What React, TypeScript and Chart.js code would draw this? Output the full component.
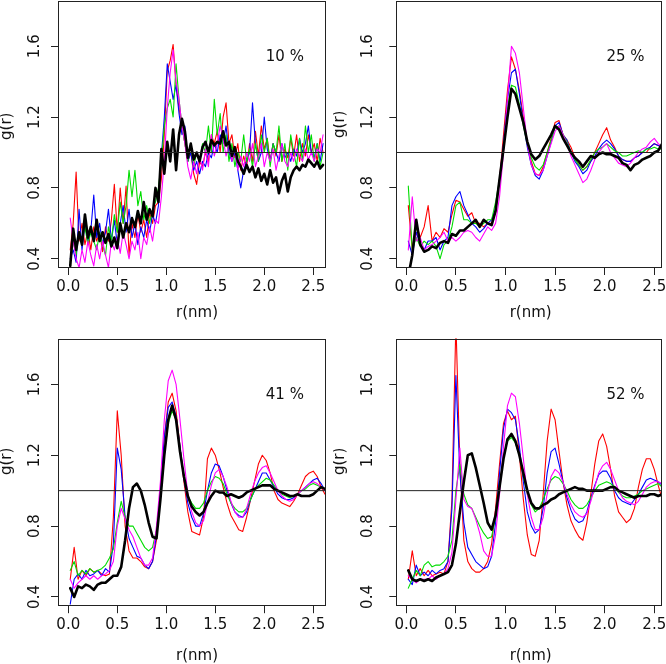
import React, { useEffect, useRef } from "react";
import { Chart, registerables } from "chart.js";

Chart.register(...registerables);

// ---------- r grids (nm) ----------
const R_FINE = [
  0.02, 0.05, 0.08, 0.11, 0.14, 0.17, 0.2, 0.23, 0.26, 0.29,
  0.32, 0.35, 0.38, 0.41, 0.44, 0.47, 0.5, 0.53, 0.56, 0.59,
  0.62, 0.65, 0.68, 0.71, 0.74, 0.77, 0.8, 0.83, 0.86, 0.89,
  0.92, 0.95, 0.98, 1.01, 1.04, 1.07, 1.1, 1.13, 1.16, 1.19,
  1.22, 1.25, 1.28, 1.31, 1.34, 1.37, 1.4, 1.43, 1.46, 1.49,
  1.52, 1.55, 1.58, 1.61, 1.64, 1.67, 1.7, 1.73, 1.76, 1.79,
  1.82, 1.85, 1.88, 1.91, 1.94, 1.97, 2.0, 2.03, 2.06, 2.09,
  2.12, 2.15, 2.18, 2.21, 2.24, 2.27, 2.3, 2.33, 2.36, 2.39,
  2.42, 2.45, 2.48, 2.51, 2.54, 2.57, 2.6,
];
const R_STD = [
  0.02, 0.06, 0.1, 0.14, 0.18, 0.22, 0.26, 0.3, 0.34, 0.38,
  0.42, 0.46, 0.5, 0.54, 0.58, 0.62, 0.66, 0.7, 0.74, 0.78,
  0.82, 0.86, 0.9, 0.94, 0.98, 1.02, 1.06, 1.1, 1.14, 1.18,
  1.22, 1.26, 1.3, 1.34, 1.38, 1.42, 1.46, 1.5, 1.54, 1.58,
  1.62, 1.66, 1.7, 1.74, 1.78, 1.82, 1.86, 1.9, 1.94, 1.98,
  2.02, 2.06, 2.1, 2.14, 2.18, 2.22, 2.26, 2.3, 2.34, 2.38,
  2.42, 2.46, 2.5, 2.54, 2.58, 2.62,
];

// ---------- 10 % ----------
const P10_BLACK = [
  0.36, 0.57, 0.45, 0.55, 0.48, 0.65, 0.52, 0.58, 0.5, 0.62,
  0.5, 0.55, 0.49, 0.54, 0.47, 0.52, 0.46, 0.6, 0.52, 0.6,
  0.55, 0.63, 0.58, 0.67, 0.6, 0.72, 0.62, 0.68, 0.64, 0.8,
  0.72, 1.02, 0.88, 1.06, 0.95, 1.13, 0.9, 1.1, 1.19, 1.12,
  0.97, 1.05, 0.96, 1.0, 0.95, 1.03, 1.06, 1.0, 1.07, 1.04,
  1.06, 1.05, 1.12, 1.04, 1.06, 0.98, 1.03, 0.95, 0.92, 0.88,
  0.93, 0.89, 0.92, 0.86, 0.91, 0.84, 0.88, 0.82, 0.9, 0.83,
  0.86, 0.77, 0.84, 0.88, 0.78, 0.86, 0.9, 0.92, 0.9, 0.93,
  0.92, 0.96, 0.94, 0.92, 0.95, 0.91, 0.93,
];
const P10_RED = [
  0.45, 0.6, 0.89, 0.5, 0.6, 0.48, 0.56, 0.45, 0.58, 0.5,
  0.55, 0.44, 0.58, 0.5, 0.62, 0.82, 0.55, 0.8, 0.6, 0.81,
  0.42, 0.6, 0.52, 0.65, 0.55, 0.62, 0.52, 0.66, 0.6, 0.7,
  0.72, 0.85, 1.1, 1.46, 1.52, 1.61, 1.38, 1.25, 1.15, 1.05,
  0.95, 1.0, 0.88, 0.82, 0.95, 0.92, 1.0, 0.95, 1.1, 1.05,
  1.12, 1.0, 1.2, 1.28, 1.05, 1.1, 0.97, 1.05, 0.9, 0.98,
  0.92, 1.05, 0.95, 1.12, 0.98, 1.15, 1.02, 1.08, 0.95, 1.05,
  0.98, 1.1, 0.95, 1.02, 0.97, 1.08, 0.98, 1.1, 0.95, 1.05,
  0.98, 1.1, 1.0, 1.05, 0.95, 1.08, 1.0,
];
const P10_BLUE = [
  0.4, 0.45, 0.38, 0.68, 0.45, 0.6, 0.5, 0.56, 0.76, 0.52,
  0.6, 0.48, 0.55, 0.68, 0.5, 0.62, 0.48, 0.6, 0.7, 0.55,
  0.68, 0.52, 0.6, 0.48, 0.58, 0.52, 0.62, 0.55, 0.65, 0.6,
  0.7, 0.98, 1.2, 1.5, 1.4, 1.3, 1.38, 1.22, 1.1, 1.15,
  0.95, 1.0, 0.9, 0.95, 0.88, 0.95, 0.92, 1.0, 0.97, 1.05,
  1.0, 1.1, 1.05, 1.15, 1.0, 0.95, 1.0, 0.9, 0.8, 0.9,
  0.95, 1.0, 1.28, 1.05, 0.95, 1.0, 1.2, 1.02, 0.95, 1.05,
  1.0, 0.95, 1.05, 0.97, 1.0, 0.95, 1.02, 0.98, 1.08, 1.0,
  1.05, 1.15, 1.0, 0.97, 1.05, 0.95, 1.05,
];
const P10_GREEN = [
  0.38, 0.5, 0.42, 0.55, 0.5, 0.58, 0.48, 0.55, 0.5, 0.45,
  0.55, 0.48, 0.42, 0.58, 0.5, 0.65, 0.55, 0.72, 0.6, 0.7,
  0.9, 0.75, 0.9, 0.7, 0.78, 0.62, 0.7, 0.6, 0.68, 0.72,
  0.8, 0.95, 1.15, 1.25, 1.3, 1.2, 1.5, 1.3, 1.15, 1.05,
  0.95, 1.05, 0.92, 1.0, 0.95, 1.05, 1.0, 1.15, 1.0, 1.3,
  1.1, 1.22, 1.0, 1.1, 0.95, 1.05, 0.92, 1.0, 0.95, 1.1,
  0.95, 1.02, 0.92, 1.05, 0.95, 1.1, 1.0, 1.08, 0.92, 1.05,
  1.0, 1.15, 0.95, 1.05, 0.9, 1.1, 1.0, 0.92, 1.08, 0.95,
  1.15, 1.0, 1.1, 0.95, 1.05, 0.92, 1.0,
];
const P10_MAGENTA = [
  0.63, 0.5, 0.4, 0.35, 0.45, 0.38, 0.5, 0.42, 0.36, 0.48,
  0.4, 0.5, 0.42, 0.35, 0.5, 0.45, 0.52, 0.43, 0.55, 0.48,
  0.4, 0.5, 0.45, 0.55, 0.4, 0.52, 0.48, 0.58, 0.5, 0.62,
  0.6, 0.75, 0.95, 1.25, 1.45, 1.58, 1.4, 1.3, 1.15, 1.05,
  0.92, 0.85, 0.95, 0.88, 0.98, 0.9, 1.02, 0.92, 1.1, 0.98,
  1.05, 1.15, 1.08, 0.98, 1.05, 0.95, 1.02, 0.9, 0.98, 0.92,
  1.0, 0.95, 1.05, 0.92, 0.98, 1.05, 0.92, 1.0, 0.95, 1.02,
  0.9, 0.98, 1.05, 0.95, 0.92, 1.0, 0.95, 1.02, 0.98, 0.95,
  1.02, 0.96, 1.0, 0.95, 1.02, 1.0, 1.1,
];

// ---------- 25 % ----------
const P25_BLACK = [
  0.3, 0.42, 0.62, 0.48, 0.44, 0.45, 0.47, 0.46, 0.49, 0.5,
  0.49, 0.54, 0.53, 0.56, 0.56, 0.58, 0.6, 0.62, 0.58, 0.62,
  0.6, 0.59, 0.67, 0.85, 1.02, 1.2, 1.36, 1.33, 1.25, 1.17,
  1.06, 0.99, 0.96, 0.98, 1.02, 1.06, 1.1, 1.15, 1.13, 1.08,
  1.04, 1.0, 0.97, 0.95, 0.92, 0.95, 0.98, 0.97, 0.99, 1.0,
  0.99, 0.99, 0.98, 0.97, 0.94, 0.93, 0.9, 0.93, 0.94, 0.96,
  0.97, 0.98, 1.0, 1.01, 1.05, 1.0,
];
const P25_RED = [
  0.7, 0.45, 0.6, 0.52, 0.58, 0.7, 0.5, 0.55, 0.52, 0.57,
  0.55, 0.65, 0.73, 0.72, 0.68, 0.64, 0.66, 0.6, 0.6, 0.58,
  0.6, 0.6, 0.66, 0.85, 1.1, 1.35, 1.54, 1.47, 1.35, 1.2,
  1.05, 0.95, 0.88, 0.87, 0.92, 1.0, 1.08, 1.17, 1.18, 1.1,
  1.07, 1.03, 0.97, 0.93, 0.9, 0.92, 0.95, 1.0, 1.05, 1.1,
  1.14, 1.07, 1.03, 0.98, 0.96, 0.95, 0.95, 0.97, 0.98, 1.0,
  1.0, 1.03, 1.05, 1.04, 1.03, 1.0,
];
const P25_BLUE = [
  0.5, 0.42, 0.55, 0.48, 0.45, 0.5, 0.5, 0.52, 0.45, 0.5,
  0.52, 0.7, 0.75, 0.78, 0.7, 0.65, 0.6, 0.58, 0.55, 0.57,
  0.6, 0.62, 0.68, 0.85, 1.05, 1.3, 1.45, 1.47, 1.33, 1.17,
  1.03, 0.93, 0.87, 0.85, 0.9, 0.98, 1.06, 1.15, 1.17, 1.1,
  1.07, 1.0, 0.95, 0.92, 0.88, 0.9, 0.95, 0.98, 1.02, 1.05,
  1.07, 1.05, 1.02, 0.98, 0.96, 0.95, 0.95, 0.97, 0.98, 1.0,
  1.02, 1.03, 1.05, 1.04, 1.03, 1.0,
];
const P25_GREEN = [
  0.81, 0.45, 0.52, 0.47, 0.5, 0.48, 0.5, 0.47, 0.4, 0.48,
  0.5, 0.58, 0.7, 0.72, 0.62, 0.62, 0.6, 0.6, 0.58, 0.6,
  0.62, 0.62, 0.72, 0.85, 1.02, 1.25, 1.38, 1.37, 1.27, 1.15,
  1.05, 0.97, 0.92, 0.9, 0.93, 1.0, 1.07, 1.14, 1.15, 1.1,
  1.06, 1.0, 0.96, 0.93, 0.9, 0.92, 0.96, 1.0, 1.02, 1.03,
  1.05, 1.03, 1.01, 1.0, 0.98, 0.98, 0.99, 1.0, 1.01, 1.0,
  1.02, 1.02, 1.03, 1.02, 1.02, 1.0,
];
const P25_MAGENTA = [
  0.45, 0.75, 0.5, 0.52, 0.45, 0.47, 0.48, 0.5, 0.52, 0.55,
  0.5, 0.52, 0.5, 0.52, 0.55, 0.56, 0.55, 0.52, 0.5, 0.54,
  0.58, 0.56, 0.6, 0.75, 1.0, 1.3, 1.6, 1.56, 1.45, 1.25,
  1.05, 0.93, 0.88, 0.87, 0.9, 0.98, 1.05, 1.12, 1.15, 1.1,
  1.05, 0.98, 0.93, 0.88, 0.83, 0.85, 0.9, 0.96, 1.0, 1.03,
  1.05, 1.0, 0.97, 0.94, 0.93, 0.92, 0.94, 0.97, 1.0, 1.02,
  1.03, 1.06, 1.08, 1.05, 1.03, 1.0,
];

// ---------- 41 % ----------
const P41_BLACK = [
  0.45, 0.4, 0.46, 0.45, 0.47, 0.46, 0.44, 0.47, 0.48, 0.48,
  0.5, 0.52, 0.52, 0.57, 0.72, 0.9, 1.02, 1.04, 1.0, 0.92,
  0.82, 0.74, 0.73, 0.95, 1.2, 1.4, 1.48, 1.4, 1.22, 1.08,
  0.97, 0.91, 0.88, 0.86, 0.88, 0.93, 0.97, 1.0, 0.99, 0.99,
  0.97, 0.98, 0.97, 0.96, 0.97, 0.99, 1.0, 1.01, 1.02, 1.03,
  1.03, 1.03, 1.01, 1.0, 0.99, 0.98, 0.97, 0.97, 0.98, 0.97,
  0.97, 0.97, 0.98, 1.0, 1.02, 1.01,
];
const P41_RED = [
  0.5, 0.68, 0.5, 0.55, 0.52, 0.56, 0.54, 0.55, 0.53, 0.52,
  0.53, 0.85, 1.45, 1.2, 0.8, 0.66, 0.62, 0.62, 0.6, 0.57,
  0.56, 0.6, 0.72, 1.0, 1.3, 1.5, 1.55, 1.45, 1.25, 1.05,
  0.88, 0.77, 0.76, 0.75, 0.85, 1.18, 1.24, 1.2, 1.12, 1.02,
  0.93, 0.86, 0.82, 0.78, 0.77, 0.85, 0.95, 1.05, 1.15, 1.2,
  1.17, 1.1, 1.0, 0.95, 0.93, 0.92, 0.91, 0.94, 0.98, 1.03,
  1.08, 1.1, 1.11, 1.08, 1.02, 0.98,
];
const P41_BLUE = [
  0.36, 0.5, 0.53, 0.5, 0.55, 0.52, 0.53, 0.55, 0.52, 0.56,
  0.54, 0.7, 1.24, 1.12, 0.85, 0.73, 0.68, 0.63, 0.62, 0.58,
  0.56, 0.6, 0.75, 1.0, 1.3, 1.47, 1.5, 1.42, 1.25, 1.07,
  0.93, 0.85, 0.8, 0.8, 0.87, 1.0, 1.1, 1.15, 1.14, 1.08,
  1.0, 0.93, 0.88, 0.86, 0.85, 0.88, 0.95, 1.0, 1.05, 1.1,
  1.1, 1.06, 1.02, 0.98, 0.96, 0.95, 0.95, 0.96, 0.98, 1.0,
  1.02, 1.04, 1.06, 1.07, 1.04, 1.0,
];
const P41_GREEN = [
  0.55, 0.6, 0.52, 0.55, 0.53, 0.56, 0.54, 0.55, 0.56, 0.58,
  0.62, 0.67, 0.82, 0.94, 0.85, 0.8, 0.8, 0.76, 0.72, 0.68,
  0.66, 0.68, 0.78, 0.95, 1.2, 1.38, 1.45, 1.4, 1.24, 1.08,
  0.97, 0.93, 0.9, 0.9, 0.93, 1.0, 1.05, 1.08, 1.07, 1.04,
  0.98, 0.93, 0.9, 0.88, 0.88, 0.9, 0.95, 1.0, 1.03, 1.05,
  1.07, 1.06, 1.03, 1.0, 0.98, 0.97, 0.96, 0.97, 0.98, 1.0,
  1.01, 1.03, 1.04, 1.03, 1.02, 1.0,
];
const P41_MAGENTA = [
  0.5, 0.45, 0.48, 0.5, 0.52, 0.5, 0.52, 0.5, 0.52, 0.53,
  0.55, 0.6, 0.8, 0.9, 0.84, 0.78, 0.74, 0.68, 0.62, 0.58,
  0.58, 0.62, 0.8, 1.05, 1.4, 1.62, 1.68, 1.6, 1.4, 1.18,
  0.98, 0.88, 0.82, 0.8, 0.83, 0.93, 1.03, 1.1, 1.12, 1.08,
  1.02, 0.94, 0.88, 0.85, 0.85, 0.9, 0.98, 1.05, 1.1, 1.13,
  1.14, 1.1, 1.05, 1.0, 0.97, 0.95, 0.94, 0.95, 0.98, 1.0,
  1.02, 1.04, 1.05, 1.04, 1.02, 1.0,
];

// ---------- 52 % ----------
const P52_BLACK = [
  0.55, 0.5, 0.49, 0.5, 0.49, 0.5, 0.49, 0.51, 0.52, 0.53,
  0.54, 0.58, 0.7, 0.88, 1.05, 1.2, 1.21, 1.13, 1.03, 0.93,
  0.82, 0.78, 0.86, 1.02, 1.18, 1.29, 1.32, 1.28, 1.2, 1.1,
  1.0, 0.93, 0.9, 0.9, 0.92, 0.93, 0.95, 0.96, 0.98, 0.99,
  1.0, 1.01, 1.02, 1.01, 1.01, 1.0, 1.0, 1.0, 1.0, 1.0,
  1.01, 1.02, 1.02, 1.0, 0.99, 0.98, 0.97, 0.96, 0.97, 0.97,
  0.97, 0.98, 0.98, 0.97, 0.98, 0.99,
];
const P52_RED = [
  0.5, 0.66, 0.52, 0.56, 0.52, 0.55, 0.52, 0.53, 0.54, 0.53,
  0.6, 0.95, 1.95, 1.15, 0.72, 0.6, 0.56, 0.54, 0.54, 0.56,
  0.6, 0.7, 0.9, 1.15, 1.38, 1.45, 1.4, 1.42, 1.2, 0.95,
  0.75, 0.64, 0.63, 0.72, 0.98, 1.28, 1.46, 1.4, 1.22, 1.05,
  0.92, 0.83, 0.78, 0.74, 0.72, 0.82, 0.98, 1.15, 1.28, 1.32,
  1.25, 1.12, 0.97, 0.88, 0.85, 0.82, 0.84, 0.9, 1.02, 1.12,
  1.18, 1.18, 1.12, 1.03, 0.95, 0.84,
];
const P52_BLUE = [
  0.5, 0.47, 0.58, 0.52, 0.54, 0.52, 0.55, 0.53, 0.55, 0.56,
  0.6, 0.9, 1.65, 1.1, 0.82, 0.68, 0.64, 0.6, 0.58, 0.56,
  0.57, 0.63, 0.82, 1.1, 1.35, 1.46, 1.44, 1.4, 1.25, 1.05,
  0.88, 0.8, 0.76, 0.78, 0.9, 1.1, 1.22, 1.24, 1.15, 1.05,
  0.96, 0.89, 0.84, 0.82, 0.83, 0.88, 0.96, 1.03, 1.09, 1.11,
  1.11, 1.07, 1.0, 0.96, 0.94, 0.93, 0.92, 0.95, 0.98, 1.02,
  1.06, 1.07, 1.06, 1.05, 1.03, 1.0,
];
const P52_GREEN = [
  0.45, 0.5, 0.55, 0.52, 0.58, 0.6, 0.57, 0.58, 0.58, 0.6,
  0.63, 0.72, 1.0, 1.15, 0.98, 0.92, 0.9, 0.85, 0.8, 0.76,
  0.73, 0.74, 0.85, 1.02, 1.2, 1.28, 1.3, 1.27, 1.2, 1.08,
  0.98, 0.92, 0.88, 0.9, 0.95, 1.01, 1.06, 1.08, 1.07, 1.04,
  1.0, 0.95, 0.92, 0.9, 0.9, 0.92, 0.96, 1.0, 1.03, 1.04,
  1.05, 1.04, 1.02, 0.99, 0.97, 0.96, 0.96, 0.97, 0.98, 1.0,
  1.01, 1.02, 1.03, 1.04, 1.02, 1.0,
];
const P52_MAGENTA = [
  0.52, 0.5, 0.48, 0.5, 0.5, 0.5, 0.52, 0.5, 0.52, 0.53,
  0.56, 0.65, 0.95, 1.24, 0.95, 0.91, 0.9, 0.84, 0.76, 0.66,
  0.63, 0.63, 0.75, 0.98, 1.25, 1.48, 1.55, 1.53, 1.38, 1.18,
  0.98, 0.85, 0.78, 0.78, 0.85, 0.98, 1.08, 1.12, 1.1, 1.05,
  0.98, 0.92, 0.88, 0.86, 0.85, 0.87, 0.94, 1.02, 1.1, 1.14,
  1.16, 1.12, 1.06, 1.0, 0.96, 0.94, 0.93, 0.92, 0.94, 0.98,
  1.02, 1.04, 1.05, 1.05, 1.04, 1.02,
];

// ---------- axes / labels ----------
const X_TICKS = [0, 0.5, 1.0, 1.5, 2.0, 2.5];
const Y_TICKS = [0.4, 0.8, 1.2, 1.6];
const Y_MIN = 0.348;
const Y_MAX = 1.858;
const REF_R = [-0.5, 3.0];
const REF_G = [1, 1];
const PANEL_TITLES = ["10 %", "25 %", "41 %", "52 %"];
const TITLE_R = 2.21;
const TITLE_G = 1.54;
const X_LABEL = "r(nm)";
const Y_LABEL = "g(r)";

const FONT = "'DejaVu Sans', 'Liberation Sans', Arial, sans-serif";
const INK = "#111111";
const AXIS = "#222222";

type Series = { black: number[]; red: number[]; blue: number[]; green: number[]; magenta: number[] };
type Geo = {
  left: number; top: number; w: number; h: number;
  areaL: number; areaT: number; areaR: number; areaB: number;
  xMin: number; xMax: number; yTickPad: number;
  xTitleDx: number; xTitleY: number; yTitleX: number; yTitleDy: number;
};

const PANELS: { geo: Geo; r: number[]; s: Series; title: string }[] = [
  {
    geo: { left: 0, top: 0, w: 333, h: 332, areaL: 58, areaT: 0.5, areaR: 326, areaB: 268, xMin: -0.105, xMax: 2.63, yTickPad: 3.5,
      xTitleDx: 5, xTitleY: 313, yTitleX: 7.2, yTitleDy: -8 },
    r: R_FINE,
    s: { black: P10_BLACK, red: P10_RED, blue: P10_BLUE, green: P10_GREEN, magenta: P10_MAGENTA },
    title: PANEL_TITLES[0],
  },
  {
    geo: { left: 333, top: 0, w: 333, h: 332, areaL: 63.3, areaT: 0.5, areaR: 329, areaB: 268, xMin: -0.101, xMax: 2.578, yTickPad: 8.8,
      xTitleDx: 1.5, xTitleY: 313.5, yTitleX: 6.8, yTitleDy: -10 },
    r: R_STD,
    s: { black: P25_BLACK, red: P25_RED, blue: P25_BLUE, green: P25_GREEN, magenta: P25_MAGENTA },
    title: PANEL_TITLES[1],
  },
  {
    geo: { left: 0, top: 332, w: 333, h: 332, areaL: 58, areaT: 6.6, areaR: 326, areaB: 274.2, xMin: -0.105, xMax: 2.63, yTickPad: 3.5,
      xTitleDx: 5, xTitleY: 324.5, yTitleX: 7.2, yTitleDy: -11 },
    r: R_STD,
    s: { black: P41_BLACK, red: P41_RED, blue: P41_BLUE, green: P41_GREEN, magenta: P41_MAGENTA },
    title: PANEL_TITLES[2],
  },
  {
    geo: { left: 333, top: 332, w: 333, h: 332, areaL: 63.3, areaT: 6.6, areaR: 329, areaB: 274.2, xMin: -0.101, xMax: 2.578, yTickPad: 8.8,
      xTitleDx: 1.5, xTitleY: 324.5, yTitleX: 6.8, yTitleDy: -11 },
    r: R_STD,
    s: { black: P52_BLACK, red: P52_RED, blue: P52_BLUE, green: P52_GREEN, magenta: P52_MAGENTA },
    title: PANEL_TITLES[3],
  },
];

const toPoints = (xs: number[], ys: number[]) => xs.map((x, i) => ({ x, y: ys[i] }));

function makeFramePlugin(label: string, geo: Geo) {
  return {
    id: "frameAndLabels",
    afterDraw(chart: any) {
      const { ctx, chartArea: a, scales } = chart;
      ctx.save();
      ctx.strokeStyle = AXIS;
      ctx.lineWidth = 1;
      const l = Math.round(a.left) + 0.5;
      const t = Math.round(a.top) + 0.5;
      const r = Math.round(a.right) - 0.5;
      const b = Math.round(a.bottom) - 0.5;
      ctx.strokeRect(l, t, r - l, b - t);
      ctx.fillStyle = INK;
      ctx.font = `15px ${FONT}`;
      ctx.textAlign = "center";
      ctx.textBaseline = "middle";
      // panel label, placed in data units
      ctx.fillText(label, scales.x.getPixelForValue(TITLE_R), scales.y.getPixelForValue(TITLE_G));
      // axis titles
      ctx.fillText(X_LABEL, (a.left + a.right) / 2 + geo.xTitleDx, geo.xTitleY);
      ctx.translate(geo.yTitleX, (a.top + a.bottom) / 2 + geo.yTitleDy);
      ctx.rotate(-Math.PI / 2);
      ctx.fillText(Y_LABEL, 0, 0);
      ctx.restore();
    },
  };
}

const zeroPadding = (sc: any) => {
  sc.paddingTop = 0;
  sc.paddingBottom = 0;
  sc.paddingLeft = 0;
  sc.paddingRight = 0;
};

function Panel({ geo, r, s, title }: { geo: Geo; r: number[]; s: Series; title: string }) {
  const ref = useRef<HTMLCanvasElement>(null);
  useEffect(() => {
    const canvas = ref.current;
    if (!canvas) return;
    const line = (data: number[], color: string, width: number, order: number) => ({
      data: toPoints(r, data),
      borderColor: color,
      borderWidth: width,
      order,
      pointRadius: 0,
      tension: 0,
      fill: false,
      borderJoinStyle: "round" as const,
      borderCapStyle: "round" as const,
      clip: 0,
    });
    const tickFont = { family: FONT, size: 15, lineHeight: 1 };
    const chart = new Chart(canvas, {
      type: "line",
      data: {
        datasets: [
          { ...line(REF_G, AXIS, 1, 0), data: toPoints(REF_R, REF_G) },
          line(s.black, "#000000", 2.6, 1),
          line(s.magenta, "#ff00ff", 1.1, 2),
          line(s.green, "#00dd00", 1.1, 3),
          line(s.blue, "#0000ff", 1.1, 4),
          line(s.red, "#ff0000", 1.1, 5),
        ] as any,
      },
      options: {
        animation: false,
        responsive: true,
        maintainAspectRatio: false,
        events: [],
        layout: { padding: { left: 0, top: geo.areaT, right: geo.w - geo.areaR, bottom: 0 } },
        plugins: { legend: { display: false }, tooltip: { enabled: false } },
        scales: {
          x: {
            type: "linear",
            min: geo.xMin,
            max: geo.xMax,
            afterBuildTicks: (sc: any) => { sc.ticks = X_TICKS.map((v) => ({ value: v })); },
            afterFit: (sc: any) => { sc.height = geo.h - geo.areaB; zeroPadding(sc); },
            grid: { display: true, drawOnChartArea: false, drawTicks: true, tickLength: 7, tickColor: AXIS, lineWidth: 1 },
            border: { display: false },
            ticks: {
              autoSkip: false, minRotation: 0, maxRotation: 0, padding: 4.5, color: INK, font: tickFont,
              callback: (v: any) => Number(v).toFixed(1),
            },
            title: { display: false },
          },
          y: {
            type: "linear",
            min: Y_MIN,
            max: Y_MAX,
            afterBuildTicks: (sc: any) => { sc.ticks = Y_TICKS.map((v) => ({ value: v })); },
            afterFit: (sc: any) => { sc.width = geo.areaL; zeroPadding(sc); },
            grid: { display: true, drawOnChartArea: false, drawTicks: true, tickLength: 7, tickColor: AXIS, lineWidth: 1 },
            border: { display: false },
            ticks: {
              autoSkip: false, minRotation: 90, maxRotation: 90, crossAlign: "center", padding: geo.yTickPad, color: INK, font: tickFont,
              callback: (v: any) => Number(v).toFixed(1),
            },
            title: { display: false },
          },
        },
      } as any,
      plugins: [makeFramePlugin(title, geo)],
    });
    return () => chart.destroy();
  }, []);
  return (
    <div style={{ position: "absolute", left: geo.left, top: geo.top, width: geo.w, height: geo.h }}>
      <canvas ref={ref} />
    </div>
  );
}

export default function App() {
  return (
    <div style={{ position: "absolute", left: 0, top: 0, width: 666, height: 664, overflow: "hidden", background: "#ffffff" }}>
      {PANELS.map((p, i) => (
        <Panel key={i} geo={p.geo} r={p.r} s={p.s} title={p.title} />
      ))}
    </div>
  );
}
